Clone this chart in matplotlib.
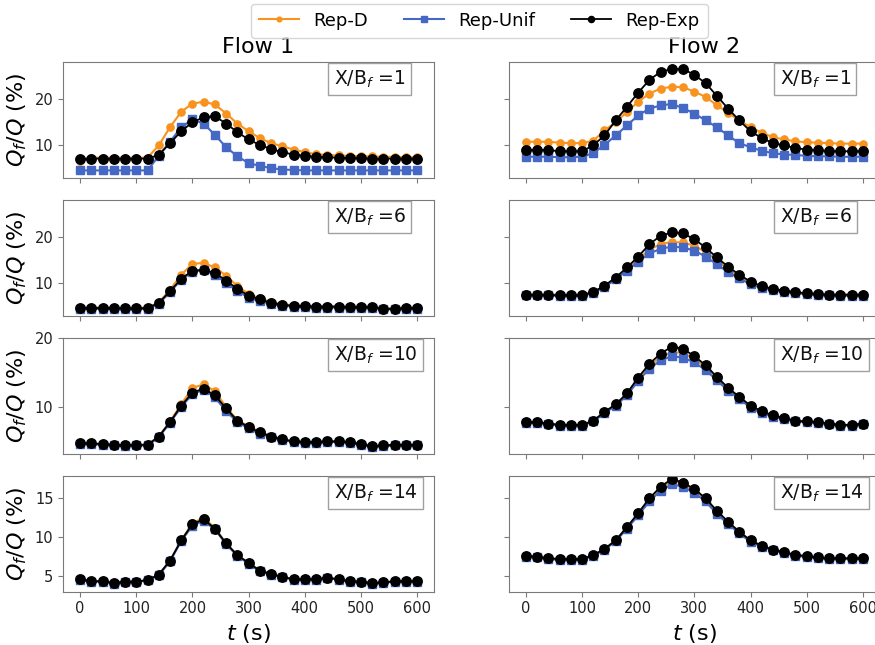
import matplotlib
matplotlib.use("Agg")
import matplotlib.pyplot as plt

# Time samples (s)
t = [0, 20, 40, 60, 80, 100, 120, 140, 160, 180, 200, 220, 240, 260, 280, 300,
     320, 340, 360, 380, 400, 420, 440, 460, 480, 500, 520, 540, 560, 580, 600]

flows = ["Flow 1", "Flow 2"]
stations = [1, 6, 10, 14]
series_names = ["Rep-D", "Rep-Unif", "Rep-Exp"]

# ---- Flow 1 ----
f1_x1_d = [6.4, 7.2, 7.2, 7.2, 7.2, 7.2, 7.2, 9.9, 13.9, 17.3, 19.1, 19.5, 18.9, 16.9, 14.7, 13.0,
           11.5, 10.4, 9.7, 9.0, 8.4, 8.0, 7.8, 7.7, 7.6, 7.5, 7.5, 7.4, 7.4, 7.3, 7.3]
f1_x1_unif = [4.4, 4.4, 4.4, 4.4, 4.4, 4.4, 4.4, 7.6, 10.7, 13.9, 15.6, 14.7, 12.2, 9.5, 7.5, 6.0,
              5.4, 4.9, 4.6, 4.5, 4.4, 4.4, 4.4, 4.4, 4.4, 4.4, 4.4, 4.4, 4.4, 4.4, 4.4]
f1_x1_exp = [7.0, 7.0, 7.0, 7.0, 7.0, 7.0, 7.0, 7.8, 10.4, 13.0, 15.0, 16.1, 16.3, 14.7, 12.8, 11.2,
             10.0, 9.1, 8.4, 7.9, 7.6, 7.4, 7.3, 7.2, 7.1, 7.1, 7.0, 7.0, 7.0, 7.0, 7.0]

f1_x6_d = [4.6, 4.6, 4.6, 4.6, 4.5, 4.5, 4.6, 5.7, 8.5, 11.8, 14.2, 14.4, 13.4, 11.6, 9.3, 7.6,
           6.6, 5.8, 5.3, 5.1, 5.0, 4.9, 4.9, 4.9, 4.8, 4.8, 4.8, 4.5, 4.5, 4.6, 4.6]
f1_x6_unif = [4.3, 4.3, 4.3, 4.3, 4.2, 4.2, 4.3, 5.4, 8.0, 10.7, 12.5, 12.8, 11.8, 10.0, 8.2, 6.8,
              6.0, 5.4, 5.0, 4.8, 4.7, 4.6, 4.6, 4.6, 4.5, 4.5, 4.5, 4.2, 4.2, 4.3, 4.3]
f1_x6_exp = [4.5, 4.5, 4.5, 4.5, 4.4, 4.4, 4.5, 5.6, 8.2, 10.9, 12.7, 12.9, 12.2, 10.5, 8.7, 7.2,
             6.4, 5.6, 5.2, 5.0, 4.9, 4.8, 4.8, 4.8, 4.7, 4.7, 4.7, 4.3, 4.3, 4.5, 4.5]

f1_x10_d = [4.7, 4.7, 4.6, 4.5, 4.4, 4.5, 4.5, 5.7, 7.9, 10.4, 12.8, 13.3, 12.3, 10.0, 8.1, 7.2,
            6.4, 5.8, 5.3, 5.0, 4.9, 4.9, 5.0, 5.0, 4.9, 4.6, 4.3, 4.4, 4.5, 4.5, 4.5]
f1_x10_unif = [4.6, 4.6, 4.5, 4.4, 4.3, 4.4, 4.4, 5.6, 7.7, 10.0, 11.9, 12.5, 11.4, 9.4, 7.8, 6.9,
               6.1, 5.6, 5.2, 4.9, 4.8, 4.8, 4.9, 4.9, 4.8, 4.5, 4.2, 4.3, 4.4, 4.4, 4.4]
f1_x10_exp = [4.7, 4.7, 4.6, 4.5, 4.4, 4.5, 4.5, 5.7, 7.8, 10.2, 12.1, 12.7, 11.7, 9.8, 8.0, 7.1,
              6.3, 5.7, 5.3, 5.0, 4.9, 4.9, 5.0, 5.0, 4.9, 4.6, 4.3, 4.4, 4.5, 4.5, 4.5]

f1_x14_d = [4.6, 4.35, 4.35, 4.1, 4.3, 4.3, 4.5, 5.2, 7.0, 9.6, 11.8, 12.5, 11.2, 9.2, 7.7, 6.7,
            5.7, 5.3, 4.9, 4.6, 4.6, 4.6, 4.8, 4.6, 4.35, 4.3, 4.1, 4.2, 4.35, 4.35, 4.35]
f1_x14_unif = [4.5, 4.3, 4.3, 4.05, 4.25, 4.25, 4.45, 5.1, 6.9, 9.5, 11.5, 12.1, 11.0, 9.1, 7.6, 6.6,
               5.6, 5.2, 4.85, 4.55, 4.55, 4.55, 4.75, 4.55, 4.3, 4.25, 4.05, 4.15, 4.3, 4.3, 4.3]
f1_x14_exp = [4.6, 4.35, 4.35, 4.1, 4.3, 4.3, 4.5, 5.2, 7.0, 9.6, 11.7, 12.3, 11.1, 9.2, 7.7, 6.7,
              5.7, 5.3, 4.9, 4.6, 4.6, 4.6, 4.8, 4.6, 4.35, 4.3, 4.1, 4.2, 4.35, 4.35, 4.35]

# ---- Flow 2 ----
f2_x1_d = [10.7, 10.7, 10.7, 10.5, 10.4, 10.4, 10.9, 13.2, 15.0, 17.3, 19.5, 21.3, 22.4, 22.8, 22.7, 21.7,
           20.6, 18.7, 17.1, 15.4, 13.9, 12.7, 11.7, 11.2, 10.8, 10.6, 10.5, 10.4, 10.3, 10.3, 10.3]
f2_x1_unif = [7.4, 7.4, 7.4, 7.3, 7.3, 7.4, 8.2, 10.0, 12.1, 14.3, 16.5, 18.0, 18.7, 19.0, 18.1, 16.9,
              15.4, 13.9, 12.1, 10.4, 9.5, 8.7, 8.2, 7.9, 7.8, 7.6, 7.5, 7.5, 7.4, 7.4, 7.4]
f2_x1_exp = [8.9, 8.9, 8.9, 8.6, 8.6, 8.6, 9.9, 12.1, 15.4, 18.4, 21.5, 24.3, 26.1, 26.7, 26.7, 25.4,
             23.6, 20.8, 18.0, 15.4, 13.0, 11.5, 10.4, 9.9, 9.3, 9.0, 8.8, 8.7, 8.6, 8.6, 8.6]

f2_x6_d = [7.5, 7.5, 7.5, 7.4, 7.4, 7.4, 8.0, 9.3, 11.0, 13.1, 15.2, 17.3, 18.6, 19.0, 18.9, 18.2,
           16.8, 15.0, 13.1, 11.5, 10.1, 9.2, 8.6, 8.2, 7.9, 7.7, 7.6, 7.5, 7.5, 7.5, 7.5]
f2_x6_unif = [7.3, 7.3, 7.3, 7.1, 7.1, 7.2, 7.8, 9.1, 10.8, 12.7, 14.7, 16.5, 17.5, 18.0, 17.8, 17.1,
              15.8, 14.1, 12.4, 11.0, 9.7, 8.9, 8.4, 8.0, 7.8, 7.5, 7.4, 7.3, 7.2, 7.2, 7.2]
f2_x6_exp = [7.4, 7.4, 7.4, 7.3, 7.3, 7.3, 8.0, 9.4, 11.2, 13.4, 15.8, 18.5, 20.4, 21.1, 20.9, 19.6,
             17.8, 15.6, 13.6, 11.8, 10.3, 9.3, 8.7, 8.3, 8.0, 7.7, 7.6, 7.4, 7.4, 7.4, 7.4]

f2_x10_d = [7.8, 7.8, 7.6, 7.4, 7.4, 7.4, 8.0, 9.2, 10.3, 11.9, 14.1, 16.0, 17.3, 18.0, 17.9, 17.0,
            15.8, 14.2, 12.7, 11.4, 10.1, 9.3, 8.7, 8.3, 8.0, 7.9, 7.8, 7.6, 7.4, 7.4, 7.6]
f2_x10_unif = [7.7, 7.7, 7.5, 7.3, 7.3, 7.3, 7.9, 9.1, 10.2, 11.7, 13.8, 15.6, 16.8, 17.4, 17.2, 16.5,
               15.4, 13.9, 12.4, 11.2, 9.9, 9.1, 8.6, 8.2, 7.9, 7.8, 7.7, 7.5, 7.3, 7.3, 7.5]
f2_x10_exp = [7.8, 7.8, 7.6, 7.4, 7.4, 7.4, 8.0, 9.3, 10.4, 12.0, 14.3, 16.3, 17.8, 18.8, 18.5, 17.4,
              16.1, 14.4, 12.8, 11.5, 10.2, 9.4, 8.8, 8.4, 8.0, 7.9, 7.8, 7.6, 7.4, 7.4, 7.6]

f2_x14_d = [7.6, 7.5, 7.3, 7.2, 7.2, 7.2, 7.7, 8.5, 9.6, 11.3, 13.0, 14.9, 16.3, 17.3, 16.9, 16.1,
            14.9, 13.3, 11.9, 10.7, 9.6, 8.9, 8.4, 8.1, 7.7, 7.6, 7.4, 7.3, 7.3, 7.3, 7.3]
f2_x14_unif = [7.5, 7.4, 7.2, 7.1, 7.1, 7.1, 7.6, 8.4, 9.5, 11.1, 12.8, 14.6, 16.0, 16.8, 16.5, 15.7,
               14.6, 13.0, 11.7, 10.5, 9.4, 8.8, 8.3, 8.0, 7.6, 7.5, 7.3, 7.2, 7.2, 7.2, 7.2]
f2_x14_exp = [7.6, 7.5, 7.3, 7.2, 7.2, 7.2, 7.7, 8.5, 9.6, 11.3, 13.1, 15.0, 16.5, 17.5, 17.0, 16.2,
              15.0, 13.4, 12.0, 10.7, 9.6, 8.9, 8.4, 8.1, 7.7, 7.6, 7.4, 7.3, 7.3, 7.3, 7.3]

panel_data = [
    [(f1_x1_d, f1_x1_unif, f1_x1_exp), (f2_x1_d, f2_x1_unif, f2_x1_exp)],
    [(f1_x6_d, f1_x6_unif, f1_x6_exp), (f2_x6_d, f2_x6_unif, f2_x6_exp)],
    [(f1_x10_d, f1_x10_unif, f1_x10_exp), (f2_x10_d, f2_x10_unif, f2_x10_exp)],
    [(f1_x14_d, f1_x14_unif, f1_x14_exp), (f2_x14_d, f2_x14_unif, f2_x14_exp)],
]

row_ylims = [(2.8, 28.3), (2.8, 28.3), (3.2, 20.1), (3.0, 17.9)]
row_yticks = [[10, 20], [10, 20], [10, 20], [5, 10, 15]]

styles = [
    dict(color="#f7931e", marker="o", markersize=5.2, lw=1.5),
    dict(color="#4468c4", marker="s", markersize=5.6, lw=1.5),
    dict(color="black", marker="o", markersize=6.8, lw=1.3),
]

frame_color = "#7a7a7a"

fig, axes = plt.subplots(4, 2, figsize=(8.75, 6.45), dpi=100, sharex=True, sharey="row")
fig.subplots_adjust(left=0.0723, right=1.0054, top=0.9043, bottom=0.0826,
                    wspace=0.2023, hspace=0.19)

handles = []
for r in range(4):
    for c in range(2):
        ax = axes[r, c]
        for name, vals, st in zip(series_names, panel_data[r][c], styles):
            (ln,) = ax.plot(t, vals, label=name, **st)
            if r == 0 and c == 0:
                handles.append(ln)
        ax.set_xlim(-30, 630)
        ax.set_ylim(*row_ylims[r])
        ax.set_yticks(row_yticks[r])
        ax.set_xticks([0, 100, 200, 300, 400, 500, 600])
        for sp in ax.spines.values():
            sp.set_color(frame_color)
        ax.tick_params(colors="#222222", labelsize=10.5, length=3.5, width=0.8)
        ax.tick_params(axis="both", color=frame_color)
        ax.text(0.73, 0.85, rf"X/B$_f$ ={stations[r]}", transform=ax.transAxes,
                ha="left", va="center", fontsize=13.5, color="#111111",
                bbox=dict(boxstyle="square,pad=0.3", facecolor="white",
                          edgecolor="#a0a0a0", linewidth=1.0))
        if c == 0:
            ax.set_ylabel(r"$Q_f/Q$ (%)", fontsize=16)
        if r == 3:
            ax.set_xlabel(r"$t$ (s)", fontsize=16)
    axes[0, 0].set_title(flows[0], fontsize=16, x=0.526)
    axes[0, 1].set_title(flows[1], fontsize=16, x=0.526)

fig.legend(handles, series_names, loc="upper center", bbox_to_anchor=(0.548, 1.0),
           ncol=3, fontsize=13, markerscale=0.65, columnspacing=2.0,
           handlelength=2.2, frameon=True, borderpad=0.45, borderaxespad=0.2)

fig.savefig("out.png", dpi=100)
